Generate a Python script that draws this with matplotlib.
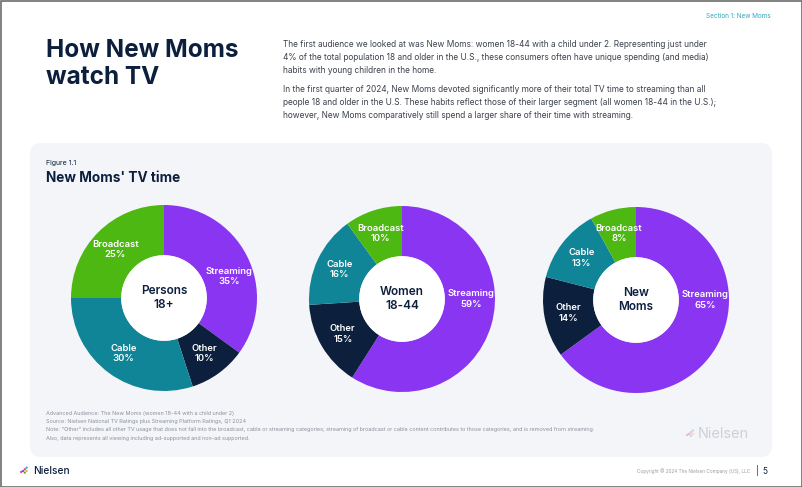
import numpy as np
import matplotlib
matplotlib.use("Agg")
import matplotlib.pyplot as plt
from matplotlib.patches import FancyBboxPatch, Rectangle, Circle

plt.rcParams['font.family'] = ['Inter', 'DejaVu Sans']

# data
categories = ['Streaming', 'Other', 'Cable', 'Broadcast']
audiences = ['Persons\n18+', 'Women\n18-44', 'New\nMoms']
persons = [35, 10, 30, 25]
women = [59, 15, 16, 10]
new_moms = [65, 14, 13, 8]
shares = [persons, women, new_moms]

colors = ['#8a35f2', '#0c1f3d', '#0f8597', '#4db812']
navy = '#0c1f3d'
W, H = 802, 487

fig = plt.figure(figsize=(W / 100, H / 100), dpi=100)
fig.patch.set_facecolor('white')

# page layer in pixel coords
bg = fig.add_axes([0, 0, 1, 1])
bg.set_xlim(0, W)
bg.set_ylim(H, 0)
bg.axis('off')

bg.add_patch(Rectangle((0.5, 0.5), W - 1, H - 1, fill=False, ec='#6d6d6d', lw=1.2))
bg.add_patch(FancyBboxPatch((30, 143), 742, 314, boxstyle='round,pad=0,rounding_size=11',
                            fc='#f4f5f8', ec='none'))

bg.text(771, 16, 'Section 1: New Moms', color='#2aa9bd', fontsize=4.6, ha='right', va='center')
bg.text(46, 39, 'How New Moms\nwatch TV', color=navy, fontsize=17.5, fontweight='bold',
        ha='left', va='top', linespacing=1.22)

para1 = ("The first audience we looked at was New Moms: women 18-44 with a child under 2. Representing just under\n"
         "4% of the total population 18 and older in the U.S., these consumers often have unique spending (and media)\n"
         "habits with young children in the home.")
para2 = ("In the first quarter of 2024, New Moms devoted significantly more of their total TV time to streaming than all\n"
         "people 18 and older in the U.S. These habits reflect those of their larger segment (all women 18-44 in the U.S.);\n"
         "however, New Moms comparatively still spend a larger share of their time with streaming.")
bg.text(283, 40, para1, color='#3b404c', fontsize=6.0, ha='left', va='top', linespacing=1.55)
bg.text(283, 85, para2, color='#3b404c', fontsize=6.0, ha='left', va='top', linespacing=1.55)

bg.text(46, 163, 'Figure 1.1', color=navy, fontsize=5, ha='left', va='center')
bg.text(46, 178, "New Moms' TV time", color=navy, fontsize=9.8, fontweight='bold', ha='left', va='center')

notes = ["Advanced Audience: The New Moms (women 18-44 with a child under 2)",
         "Source: Nielsen National TV Ratings plus Streaming Platform Ratings, Q1 2024",
         "Note: \"Other\" includes all other TV usage that does not fall into the broadcast, cable or streaming categories; "
         "streaming of broadcast or cable content contributes to those categories, and is removed from streaming.",
         "Also, data represents all viewing including ad-supported and non-ad supported."]
for i, n in enumerate(notes):
    bg.text(46, 413 + i * 8.4, n, color='#8c919b', fontsize=3.95, ha='left', va='center')


def logo(x, y, s, alpha=1.0):
    dots = [(0, 0, '#8a35f2'), (1.2, -1.1, '#e8318a'), (1.2, 1.1, '#4db812'),
            (2.4, 0, '#f5a623'), (2.4, -2.2, '#2aa9bd'), (-1.2, 0.6, '#e8318a')]
    for dx, dy, c in dots:
        bg.add_patch(Circle((x + dx * s, y + dy * s), 0.75 * s, fc=c, ec='none', alpha=alpha))


bg.text(698, 434, 'Nielsen', color='#cdd1d7', fontsize=10.5, ha='left', va='center')
logo(689, 434, 1.6, alpha=0.3)

logo(23, 471, 1.5)
bg.text(33, 471, 'Nielsen', color=navy, fontsize=7.3, fontweight='medium', ha='left', va='center')
bg.text(750, 471, 'Copyright \u00a9 2024 The Nielsen Company (US), LLC', color='#9a9ea6',
        fontsize=3.4, ha='right', va='center')
bg.text(757, 471, '|', color=navy, fontsize=6, ha='center', va='center')
bg.text(765, 471, '5', color=navy, fontsize=6, ha='center', va='center')

# donuts
centers = [(164, 298), (402, 299), (636, 300)]
R = 93
inner = 0.46
for (cx, cy), vals, name in zip(centers, shares, audiences):
    ax = fig.add_axes([(cx - R) / W, 1 - (cy + R) / H, 2 * R / W, 2 * R / H])
    ax.pie(vals, colors=colors, startangle=90, counterclock=False,
           wedgeprops=dict(width=1 - inner, linewidth=0))
    ax.add_patch(Circle((0, 0), inner, fc='white', ec='none'))
    ax.set_xlim(-1, 1)
    ax.set_ylim(-1, 1)
    ax.set_aspect('equal')
    ax.axis('off')

    start = 90.0
    for cat, v in zip(categories, vals):
        mid = start - v * 3.6 / 2
        start -= v * 3.6
        if cat == 'Streaming':
            mid = min(max(mid, 0), 18)
        r = 0.74
        ax.text(r * np.cos(np.radians(mid)), r * np.sin(np.radians(mid)), f'{cat}\n{v}%',
                color='white', fontsize=6.8, fontweight='semibold', ha='center', va='center',
                linespacing=1.2)
    ax.text(0, 0, name, color=navy, fontsize=8.5, fontweight='semibold', ha='center', va='center',
            linespacing=1.15)

fig.savefig('out.png', dpi=100)
